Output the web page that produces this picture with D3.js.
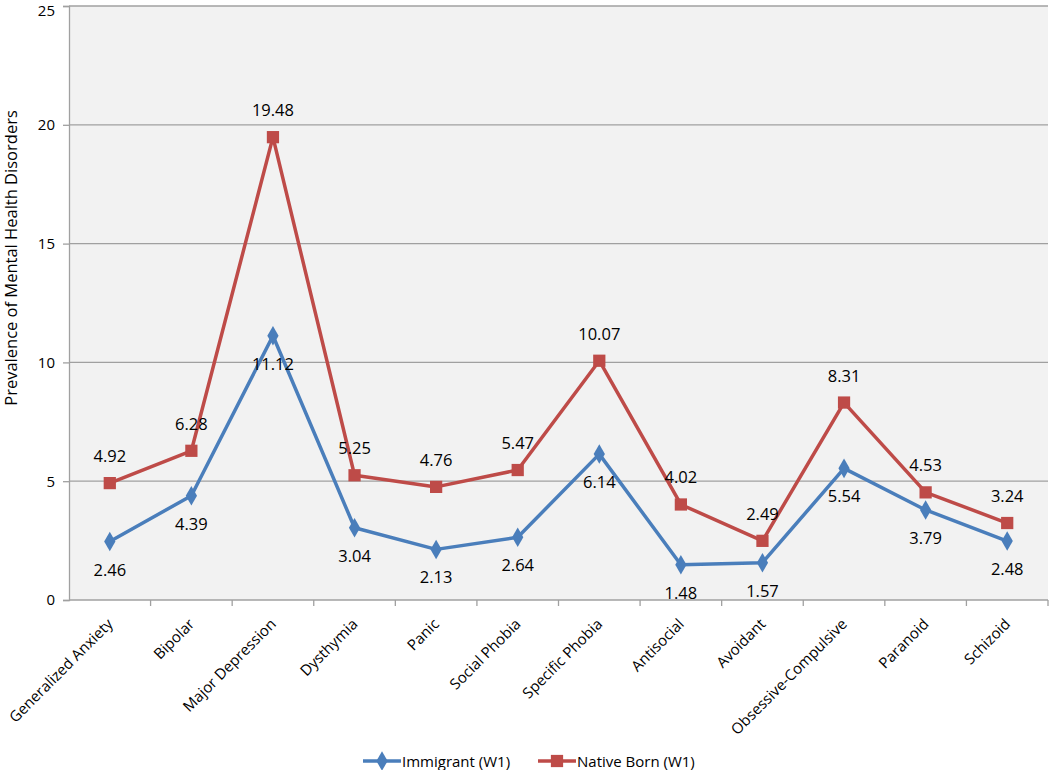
<!DOCTYPE html>
<html>
<head>
<meta charset="utf-8">
<script src="https://cdn.jsdelivr.net/npm/d3@7"></script>
<style>
  body { margin: 0; background: #fff; }
  text { font-family: "Open Sans", "Noto Sans", sans-serif; fill: #000; }
</style>
</head>
<body>
<script>
// chart data
var categories = ["Generalized Anxiety", "Bipolar", "Major Depression", "Dysthymia", "Panic",
  "Social Phobia", "Specific Phobia", "Antisocial", "Avoidant", "Obsessive-Compulsive", "Paranoid", "Schizoid"]
var immigrant = [2.46, 4.39, 11.12, 3.04, 2.13, 2.64, 6.14, 1.48, 1.57, 5.54, 3.79, 2.48]
var nativeBorn = [4.92, 6.28, 19.48, 5.25, 4.76, 5.47, 10.07, 4.02, 2.49, 8.31, 4.53, 3.24]
var yTicks = [0, 5, 10, 15, 20, 25]

var W = 1050, H = 770
var margin = {top: 6, right: 2, bottom: 170, left: 69}
var w = W - margin.left - margin.right,
    h = H - margin.top - margin.bottom

var svg = d3.select("body").append("svg")
    .attr("width", W)
    .attr("height", H)

var g = svg.append("g")
    .attr("transform", "translate(" + margin.left + "," + margin.top + ")")

var x = d3.scaleBand().domain(categories).range([0, w])
var y = d3.scaleLinear().domain([0, 25]).range([h, 0])

// plot background
g.append("rect")
  .attr("width", w).attr("height", h)
  .style("fill", "#f2f2f2")

// gridlines
g.selectAll(".grid").data(yTicks.slice(1)).enter().append("line")
  .attr("x1", 0).attr("x2", w)
  .attr("y1", function(d){ return y(d) }).attr("y2", function(d){ return y(d) })
  .style("stroke", "#a0a0a0").style("stroke-width", 1.3)

// y axis
var yAxis = g.append("g").call(d3.axisLeft(y).tickValues(yTicks).tickSize(6).tickPadding(8))
yAxis.select(".domain").style("stroke", "#a0a0a0").style("stroke-width", 1.3)
yAxis.selectAll(".tick line").style("stroke", "#a0a0a0").style("stroke-width", 1.3)
yAxis.selectAll("text").style("font-size", "15px")
yAxis.selectAll(".tick").filter(function(d){ return d === 25 }).select("text").attr("dy", "0.62em")

// x axis, ticks between categories
var xAxis = g.append("g").attr("transform", "translate(0," + h + ")")
xAxis.append("line").attr("x1", 0).attr("x2", w)
  .style("stroke", "#a0a0a0").style("stroke-width", 1.3)
xAxis.selectAll(".xt").data(categories).enter().append("line")
  .attr("x1", function(d){ return x(d) + x.bandwidth() }).attr("x2", function(d){ return x(d) + x.bandwidth() })
  .attr("y1", 0).attr("y2", 6)
  .style("stroke", "#a0a0a0").style("stroke-width", 1.3)
xAxis.selectAll(".xl").data(categories).enter().append("text")
  .attr("transform", function(d){
    return "translate(" + (x(d) + x.bandwidth() / 2 + 4) + ",25) rotate(-45)"
  })
  .style("text-anchor", "end")
  .style("font-size", "15px")
  .text(function(d){ return d })

// y title
svg.append("text")
  .attr("transform", "translate(17,258) rotate(-90)")
  .style("text-anchor", "middle")
  .style("font-size", "16.5px")
  .text("Prevalence of Mental Health Disorders")

var series = [
  {name: "Immigrant (W1)", values: immigrant, color: "#4a7ebb", shape: d3.symbolDiamond, size: 110, dy: 34},
  {name: "Native Born (W1)", values: nativeBorn, color: "#be4b48", shape: d3.symbolSquare, size: 150, dy: -21}
]

var line = d3.line()
  .x(function(d, i){ return x(categories[i]) + x.bandwidth() / 2 })
  .y(function(d){ return y(d) })

series.forEach(function(s){
  g.append("path")
    .datum(s.values)
    .attr("d", line)
    .style("fill", "none")
    .style("stroke", s.color)
    .style("stroke-width", 3.5)
    .style("stroke-linejoin", "round")

  g.selectAll(".m").data(s.values).enter().append("path")
    .attr("d", d3.symbol().type(s.shape).size(s.size))
    .attr("transform", function(d, i){
      return "translate(" + (x(categories[i]) + x.bandwidth() / 2) + "," + y(d) + ")"
    })
    .style("fill", s.color)

  g.selectAll(".lbl").data(s.values).enter().append("text")
    .attr("x", function(d, i){ return x(categories[i]) + x.bandwidth() / 2 })
    .attr("y", function(d){ return y(d) + s.dy })
    .style("text-anchor", "middle")
    .style("font-size", "16.5px")
    .text(function(d){ return d.toFixed(2) })
})

// legend
var legend = svg.append("g").attr("transform", "translate(0,761)")
var legX = [363, 538]
series.forEach(function(s, i){
  var lg = legend.append("g").attr("transform", "translate(" + legX[i] + ",0)")
  lg.append("line").attr("x1", 0).attr("x2", 38).attr("y1", 0).attr("y2", 0)
    .style("stroke", s.color).style("stroke-width", 3.5)
  lg.append("path").attr("d", d3.symbol().type(s.shape).size(s.size))
    .attr("transform", "translate(19,0)")
    .style("fill", s.color)
  lg.append("text").attr("x", 39).attr("y", 5.5)
    .style("font-size", "15px")
    .text(s.name)
})
</script>
</body>
</html>
